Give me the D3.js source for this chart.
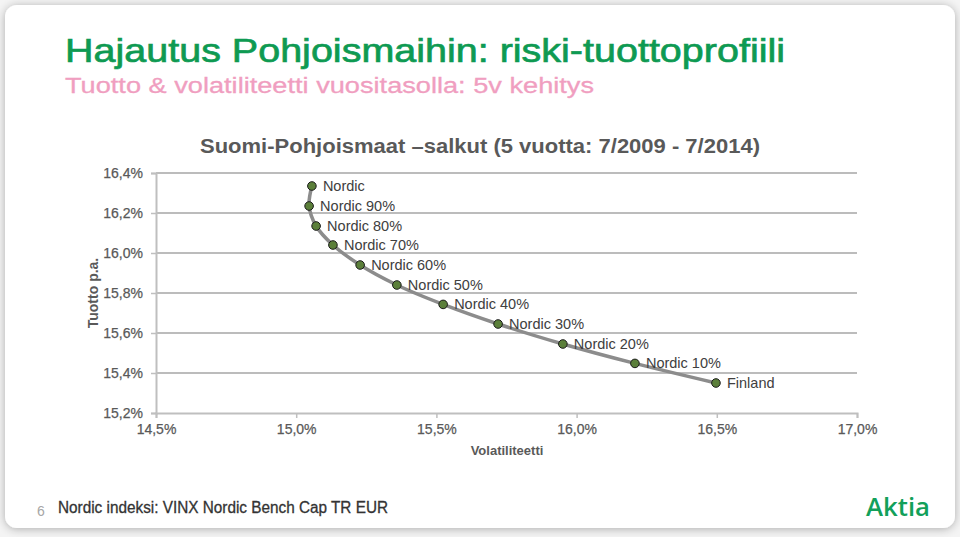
<!DOCTYPE html>
<html><head><meta charset="utf-8">
<script src="https://cdn.jsdelivr.net/npm/d3@7"></script>
<style>html,body{margin:0;padding:0;background:#ebebeb;}svg{display:block;}</style>
</head><body>
<svg id="c" width="960" height="537"></svg>
<script>
const labels = ["Nordic","Nordic 90%","Nordic 80%","Nordic 70%","Nordic 60%","Nordic 50%","Nordic 40%","Nordic 30%","Nordic 20%","Nordic 10%","Finland"];
const volatility = [15.056,15.046,15.071,15.131,15.228,15.359,15.524,15.720,15.951,16.208,16.497];
const returns = [16.335,16.235,16.135,16.040,15.940,15.840,15.743,15.645,15.545,15.448,15.350];
const xTicks = [14.5,15.0,15.5,16.0,16.5,17.0];
const yTicks = [15.2,15.4,15.6,15.8,16.0,16.2,16.4];

const svg = d3.select("#c");
const font = "'Liberation Sans', Arial, sans-serif";

// slide panel
const defs = svg.append("defs");
const f = defs.append("filter").attr("id","sh").attr("x","-5%").attr("y","-5%").attr("width","110%").attr("height","110%");
f.append("feGaussianBlur").attr("in","SourceAlpha").attr("stdDeviation",5).attr("result","b");
f.append("feOffset").attr("in","b").attr("dx",0).attr("dy",1).attr("result","o");
f.append("feComponentTransfer").attr("in","o").attr("result","o2").append("feFuncA").attr("type","linear").attr("slope",0.3);
const m = f.append("feMerge"); m.append("feMergeNode").attr("in","o2"); m.append("feMergeNode").attr("in","SourceGraphic");
svg.append("rect").attr("width",960).attr("height",537).attr("fill","#f4f4f4");
svg.append("rect").attr("x",5).attr("y",5).attr("width",950).attr("height",523).attr("rx",12)
  .attr("fill","#ffffff").attr("filter","url(#sh)");

// titles
svg.append("text").attr("x",65).attr("y",62).attr("font-family",font).attr("font-size",34)
  .attr("fill","#0e9a52").attr("stroke","#0e9a52").attr("stroke-width",0.7)
  .attr("textLength",720).attr("lengthAdjust","spacingAndGlyphs")
  .text("Hajautus Pohjoismaihin: riski-tuottoprofiili");
svg.append("text").attr("x",65).attr("y",93).attr("font-family",font).attr("font-size",22.5)
  .attr("fill","#f09ec0").attr("stroke","#f09ec0").attr("stroke-width",0.3)
  .attr("textLength",529).attr("lengthAdjust","spacingAndGlyphs")
  .text("Tuotto & volatiliteetti vuositasolla: 5v kehitys");

// chart
const x = d3.scaleLinear().domain([14.5,17.0]).range([156,857]);
const y = d3.scaleLinear().domain([15.2,16.4]).range([413,173]);
const fmt = d => d.toFixed(1).replace(".",",") + "%";

svg.append("text").attr("x",480).attr("y",153).attr("text-anchor","middle").attr("font-family",font)
  .attr("font-size",19.5).attr("font-weight","bold").attr("fill","#595959")
  .attr("textLength",560).attr("lengthAdjust","spacingAndGlyphs")
  .text("Suomi-Pohjoismaat \u2013salkut (5 vuotta: 7/2009 - 7/2014)");

// gridlines
svg.append("g").selectAll("line").data(yTicks.filter(t=>t>15.2)).join("line")
  .attr("x1",156).attr("x2",857).attr("y1",d=>y(d)).attr("y2",d=>y(d))
  .attr("stroke","#a6a6a6").attr("stroke-width",1.3);

// y axis
const ya = svg.append("g").attr("transform","translate(156,0)")
  .call(d3.axisLeft(y).tickValues(yTicks).tickFormat(fmt).tickSize(5).tickPadding(8));
ya.select(".domain").attr("stroke","#bfbfbf").attr("stroke-width",2);
ya.selectAll(".tick line").attr("stroke","#bfbfbf").attr("stroke-width",1.5);
ya.selectAll("text").attr("font-family",font).attr("font-size",14).attr("fill","#595959")
  .attr("stroke","#595959").attr("stroke-width",0.25);

// x axis
const xa = svg.append("g").attr("transform","translate(0,413)")
  .call(d3.axisBottom(x).tickValues(xTicks).tickFormat(fmt).tickSize(5).tickPadding(6));
xa.select(".domain").attr("stroke","#bfbfbf").attr("stroke-width",2);
xa.selectAll(".tick line").attr("stroke","#bfbfbf").attr("stroke-width",1.5);
xa.selectAll("text").attr("font-family",font).attr("font-size",14).attr("fill","#595959")
  .attr("stroke","#595959").attr("stroke-width",0.25);

svg.append("text").attr("transform","translate(98,293) rotate(-90)").attr("text-anchor","middle")
  .attr("font-family",font).attr("font-size",14).attr("font-weight","bold").attr("fill","#595959")
  .text("Tuotto p.a.");
svg.append("text").attr("x",507).attr("y",455).attr("text-anchor","middle")
  .attr("font-family",font).attr("font-size",13).attr("font-weight","bold").attr("fill","#595959")
  .text("Volatiliteetti");

// curve
const pts = labels.map((l,i)=>({l, v:volatility[i], r:returns[i]}));
svg.append("path").datum(pts)
  .attr("d", d3.line().x(d=>x(d.v)).y(d=>y(d.r)).curve(d3.curveCatmullRom.alpha(0.5)))
  .attr("fill","none").attr("stroke","#8c8c8c").attr("stroke-width",3.5).attr("stroke-linecap","round");

svg.append("g").selectAll("circle").data(pts).join("circle")
  .attr("cx",d=>x(d.v)).attr("cy",d=>y(d.r)).attr("r",4.3)
  .attr("fill","#5b7f3a").attr("stroke","#1a1a1a").attr("stroke-width",1);

svg.append("g").selectAll("text").data(pts).join("text")
  .attr("x",d=>x(d.v)+11).attr("y",d=>y(d.r)).attr("dy","0.35em")
  .attr("font-family",font).attr("font-size",14.5).attr("fill","#404040")
  .text(d=>d.l);

// footer
svg.append("text").attr("x",37).attr("y",516).attr("font-family",font).attr("font-size",14).attr("fill","#a6a6a6").text("6");
svg.append("text").attr("x",58).attr("y",513).attr("font-family",font).attr("font-size",16).attr("fill","#333333")
  .attr("stroke","#333333").attr("stroke-width",0.3)
  .attr("textLength",330).attr("lengthAdjust","spacingAndGlyphs")
  .text("Nordic indeksi: VINX Nordic Bench Cap TR EUR");
svg.append("text").attr("x",866).attr("y",516).attr("font-family","'Open Sans', sans-serif").attr("font-size",25)
  .attr("font-weight",600)
  .attr("fill","#12a05a").attr("textLength",64).attr("lengthAdjust","spacingAndGlyphs").text("Aktia");
</script>
</body></html>
